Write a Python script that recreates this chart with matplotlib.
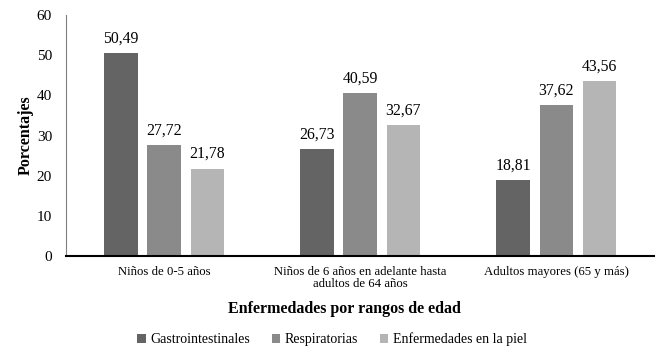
import matplotlib
matplotlib.use("Agg")
import matplotlib.pyplot as plt
import numpy as np

categories = ["Niños de 0-5 años", "Niños de 6 años en adelante hasta\nadultos de 64 años", "Adultos mayores (65 y más)"]
series_names = ["Gastrointestinales", "Respiratorias", "Enfermedades en la piel"]
gastro = [50.49, 26.73, 18.81]
resp = [27.72, 40.59, 37.62]
piel = [21.78, 32.67, 43.56]
yticks = [0, 10, 20, 30, 40, 50, 60]

plt.rcParams['font.family'] = ['Liberation Serif', 'DejaVu Serif']

fig = plt.figure(figsize=(6.64, 3.58), dpi=100)
ax = fig.add_axes([0.0994, 0.285, 0.886, 0.673])

colors = ["#646464", "#8a8a8a", "#b5b5b5"]
x = np.arange(len(categories))
w = 0.17
off = 0.22
for i, (vals, c, name) in enumerate(zip([gastro, resp, piel], colors, series_names)):
    pos = x + (i - 1) * off
    ax.bar(pos, vals, width=w, color=c, label=name)
    for p, v in zip(pos, vals):
        ax.text(p, v + 1.6, f"{v:.2f}".replace(".", ","), ha="center", va="bottom", fontsize=11.3)

ax.set_xlim(-0.5, 2.5)
ax.set_ylim(0, 60)
ax.set_yticks(yticks)
ax.set_xticks(x)
ax.set_xticklabels(categories, fontsize=9.2, linespacing=1.05)
ax.tick_params(axis='y', labelsize=11, length=0, pad=10)
ax.tick_params(axis='x', length=0, pad=7)
for s in ["top", "right"]:
    ax.spines[s].set_visible(False)
ax.spines["left"].set_color("#808080")
ax.spines["left"].set_linewidth(0.8)
ax.spines["bottom"].set_linewidth(1.5)
ax.set_ylabel("Porcentajes", fontsize=11.5, fontweight="bold", labelpad=2.5)
ax.set_xlabel("Enfermedades por rangos de edad", fontsize=11.5, fontweight="bold")
ax.xaxis.set_label_coords(0.473, -0.185)

leg = fig.legend(loc="center", bbox_to_anchor=(0.5, 0.052), ncol=3, frameon=False, fontsize=10,
                 handlelength=0.6, handleheight=0.6, handletextpad=0.3, columnspacing=1.6)

fig.savefig("out.png", dpi=100)
